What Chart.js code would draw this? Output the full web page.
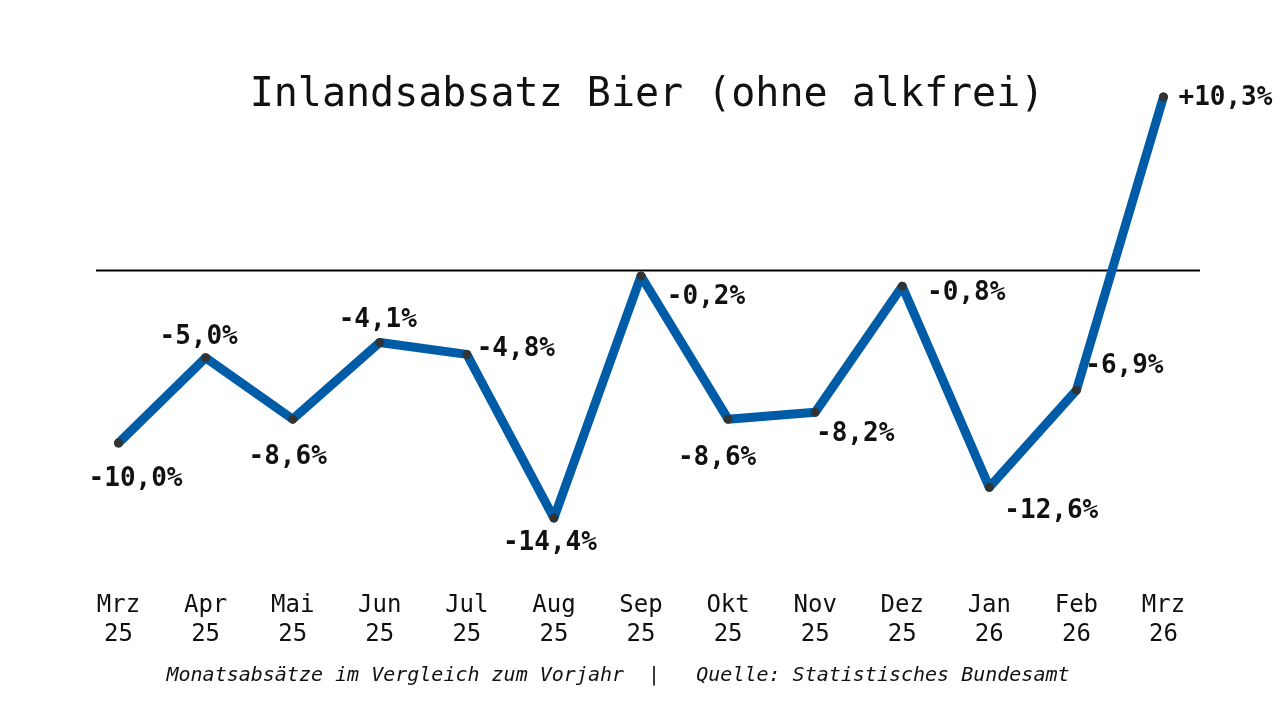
<!DOCTYPE html>
<html>
<head>
<meta charset="utf-8">
<script src="https://cdn.jsdelivr.net/npm/chart.js@4/dist/chart.umd.min.js"></script>
<style>
  html, body { margin: 0; padding: 0; background: #ffffff; }
  #wrap { width: 1280px; height: 720px; }
</style>
</head>
<body>
<div id="wrap"><canvas id="myChart" width="1280" height="720"></canvas></div>
<script>
var months = ["Mrz", "Apr", "Mai", "Jun", "Jul", "Aug", "Sep", "Okt", "Nov", "Dez", "Jan", "Feb", "Mrz"];
var years = ["25", "25", "25", "25", "25", "25", "25", "25", "25", "25", "26", "26", "26"];
var change = [-10.0, -5.0, -8.6, -4.1, -4.8, -14.4, -0.2, -8.6, -8.2, -0.8, -12.6, -6.9, 10.3];

var title = "Inlandsabsatz Bier (ohne alkfrei)";
var footer = "Monatsabsätze im Vergleich zum Vorjahr  |   Quelle: Statistisches Bundesamt";

// where each value label sits relative to its point (dx, dy in px)
var labelOffset = [[17, 36], [-7, -21], [-5, 38], [-2, -22], [49, -5], [-4, 25], [65, 21], [-11, 39], [40, 22], [64, 7], [62, 24], [48, -24], [62, 1]];

var monoFont = "'DejaVu Sans Mono', 'Liberation Mono', monospace";

function fmt(v) {
	var s = Math.abs(v).toFixed(1).replace(".", ",");
	return (v > 0 ? "+" : "-") + s + "%";
}

// zero line, title, footer and value labels
var extras = {
	id: "extras",
	beforeDatasetsDraw: function(chart) {
		var c = chart.ctx;
		var area = chart.chartArea;
		var y0 = chart.scales.y.getPixelForValue(0);
		c.save();
		c.strokeStyle = "#000000";
		c.lineWidth = 2;
		c.beginPath();
		c.moveTo(area.left + 21, y0 - 2);
		c.lineTo(area.right - 7, y0 - 2);
		c.stroke();
		c.restore();
	},
	afterDatasetsDraw: function(chart) {
		var c = chart.ctx;
		var meta = chart.getDatasetMeta(0);
		c.save();
		c.fillStyle = "#111111";
		c.textAlign = "center";
		c.textBaseline = "middle";
		c.font = "300 40px " + monoFont;
		c.fillText(title, 647, 96);

		c.font = "italic 20px " + monoFont;
		c.fillText(footer, 618, 676);

		c.font = "bold 26px " + monoFont;
		for (var i in meta.data) {
			var p = meta.data[i];
			c.fillText(fmt(change[i]), p.x + labelOffset[i][0], p.y + labelOffset[i][1]);
		}
		c.restore();
	}
};

var ctx = document.getElementById('myChart').getContext('2d');
var chart = new Chart(ctx, {
	type: "line",
	data: {
		labels: months.map(function(m, i) { return [m, years[i]]; }),
		datasets: [{
			label: "Inlandsabsatz",
			data: change,
			borderColor: "#005ca6",
			borderWidth: 9,
			borderJoinStyle: "round",
			borderCapStyle: "round",
			pointRadius: 4.5,
			pointBackgroundColor: "#333333",
			pointBorderWidth: 0,
			tension: 0,
		}]
	},
	options: {
		responsive: false,
		animation: false,
		layout: {padding: {top: 68, left: 75, right: 73, bottom: 59}},
		plugins: {
			legend: {display: false},
			tooltip: {enabled: false},
			title: {display: false},
		},
		scales: {
			x: {
				offset: true,
				grid: {display: false, drawTicks: false},
				border: {display: false},
				ticks: {
					color: "#111111",
					padding: 12,
					font: {family: monoFont, size: 24, lineHeight: 1.2},
					maxRotation: 0,
					autoSkip: false,
				},
			},
			y: {
				display: false,
				min: -18,
				max: 12,
			}
		}
	},
	plugins: [extras]
});
</script>
</body>
</html>
